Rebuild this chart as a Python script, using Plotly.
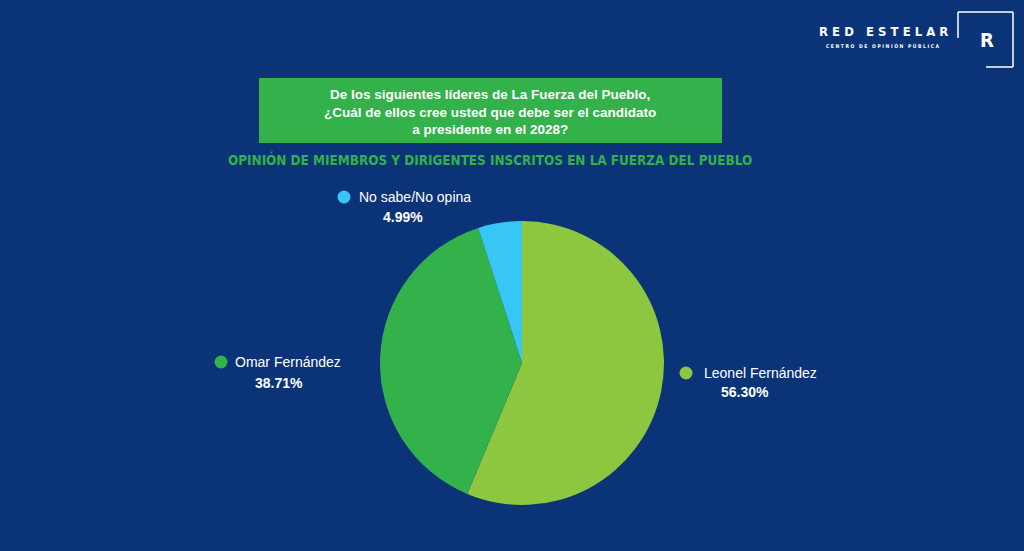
import plotly.graph_objects as go

W, H = 1024, 551

# datos
candidatos = ["Leonel Fernández", "Omar Fernández", "No sabe/No opina"]
porcentajes = [56.30, 38.71, 4.99]
colores = ["#8dc63f", "#33b14b", "#38c6f4"]

pregunta = [
    "De los siguientes líderes de La Fuerza del Pueblo,",
    "¿Cuál de ellos cree usted que debe ser el candidato",
    "a presidente en el 2028?",
]
subtitulo = "OPINIÓN DE MIEMBROS Y DIRIGENTES INSCRITOS EN LA FUERZA DEL PUEBLO"

BG = "#0b3478"
NARROW = "DejaVu Sans Condensed, sans-serif"
SANS = "Liberation Sans, Arial, sans-serif"


def px(x):
    return x / W


def py(y):
    return 1 - y / H


fig = go.Figure()

fig.add_trace(
    go.Pie(
        labels=candidatos,
        values=porcentajes,
        marker=dict(colors=colores, line=dict(width=0)),
        sort=False,
        direction="clockwise",
        rotation=0,
        textinfo="none",
        hoverinfo="label+percent",
        showlegend=False,
        domain=dict(x=[px(380), px(664)], y=[py(505), py(221)]),
    )
)

# posiciones de las etiquetas: (punto x, texto x izq, y nombre, pct x centro, y pct)
pos_etiquetas = [(686, 702, 373, 745, 392), (221, 233, 362, 279, 383), (344, 357, 197, 403, 217)]

annotations = []
shapes = []
for nombre, pct, color, (dx, tx, ny, cx, cy) in zip(candidatos, porcentajes, colores, pos_etiquetas):
    shapes.append(
        dict(type="circle", xref="paper", yref="paper",
             x0=px(dx - 6.5), x1=px(dx + 6.5), y0=py(ny + 6.5), y1=py(ny - 6.5),
             fillcolor=color, line=dict(width=0))
    )
    annotations.append(
        dict(x=px(tx), y=py(ny), xref="paper", yref="paper",
             xanchor="left", yanchor="middle", showarrow=False,
             text=nombre, font=dict(family=SANS, size=14, color="white"))
    )
    annotations.append(
        dict(x=px(cx), y=py(cy), xref="paper", yref="paper",
             xanchor="center", yanchor="middle", showarrow=False,
             text=f"<b>{pct:.2f}%</b>", font=dict(family=SANS, size=14, color="white"))
    )

# recuadro con la pregunta
annotations.append(
    dict(
        x=px(490), y=py(112), xref="paper", yref="paper",
        xanchor="center", yanchor="middle", showarrow=False, align="center",
        text="<b>" + "<br>".join(pregunta) + "</b>",
        font=dict(family=SANS, size=13.5, color="white"),
    )
)
annotations.append(
    dict(
        x=px(490), y=py(159), xref="paper", yref="paper",
        xanchor="center", yanchor="middle", showarrow=False,
        text=f"<b>{subtitulo}</b>",
        font=dict(family=NARROW, size=13.4, color="#33b14b"),
    )
)

# logo
annotations += [
    dict(
        x=px(883), y=py(32), xref="paper", yref="paper",
        xanchor="center", yanchor="middle", showarrow=False,
        text="<b>R E D   E S T E L A R</b>",
        font=dict(family=NARROW, size=13, color="white"),
    ),
    dict(
        x=px(883), y=py(46), xref="paper", yref="paper",
        xanchor="center", yanchor="middle", showarrow=False,
        text="<b>C E N T R O   D E   O P I N I Ó N   P Ú B L I C A</b>",
        font=dict(family=NARROW, size=5, color="white"),
    ),
    dict(
        x=px(987), y=py(40), xref="paper", yref="paper",
        xanchor="center", yanchor="middle", showarrow=False,
        text="<b>R</b>",
        font=dict(family=NARROW, size=20, color="white"),
    ),
]

line_w = dict(color="white", width=1.5)
shapes += [
    dict(type="rect", xref="paper", yref="paper",
         x0=px(259), x1=px(722), y0=py(143), y1=py(78),
         fillcolor="#33b14b", line=dict(width=0), layer="below"),
    dict(type="line", xref="paper", yref="paper",
         x0=px(958), x1=px(1013), y0=py(12), y1=py(12), line=line_w),
    dict(type="line", xref="paper", yref="paper",
         x0=px(1013), x1=px(1013), y0=py(12), y1=py(67), line=line_w),
    dict(type="line", xref="paper", yref="paper",
         x0=px(986), x1=px(1013), y0=py(67), y1=py(67), line=line_w),
    dict(type="line", xref="paper", yref="paper",
         x0=px(958), x1=px(958), y0=py(12), y1=py(38), line=line_w),
]

fig.update_layout(
    width=W,
    height=H,
    margin=dict(l=0, r=0, t=0, b=0),
    paper_bgcolor=BG,
    plot_bgcolor=BG,
    annotations=annotations,
    shapes=shapes,
)

fig.write_html(
    "out.html",
    config={"displayModeBar": False},
    post_script="document.body.style.margin='0';document.body.style.overflow='hidden';",
)
